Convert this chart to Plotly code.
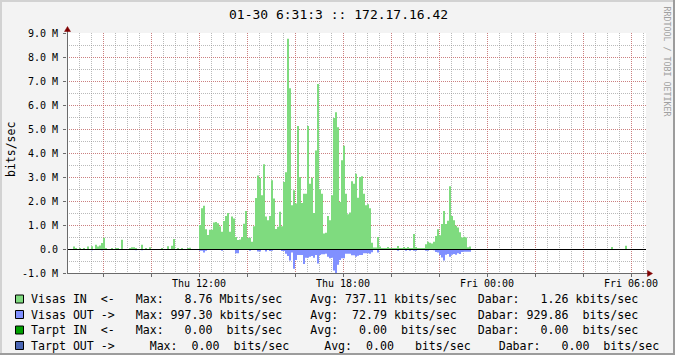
import plotly.graph_objects as go
import pandas as pd

# ---------------- data (Mbits/sec, 5-minute samples starting Thu 06:30) ----------------
start_time = "2014-01-30 06:30"
step = "5min"

visas_in = [
    0, 0, 0, 0.10, 0.04, 0, 0.04, 0, 0.04, 0, 0.10, 0,
    0.11, 0, 0.18, 0.10, 0.15, 0.25, 0.47, 0.04, 0, 0, 0.04, 0,
    0.04, 0.04, 0, 0.39, 0, 0, 0, 0.04, 0.07, 0.07, 0.04, 0,
    0, 0.18, 0, 0.04, 0, 0.07, 0, 0, 0, 0, 0, 0.04,
    0, 0, 0.11, 0, 0.14, 0.42, 0, 0.04, 0, 0.04, 0, 0,
    0.04, 0.05, 0, 0, 0, 0, 1.00, 1.70, 1.80, 0.82, 0.58, 0.80,
    0.80, 1.10, 1.13, 1.07, 0.95, 0.72, 1.17, 1.37, 1.50, 0.72, 1.35, 1.27,
    0.50, 0.38, 0.40, 0.50, 1.05, 1.58, 0.47, 0.47, 0.30, 0.95, 2.13, 3.06,
    2.96, 2.24, 3.53, 1.35, 1.20, 1.37, 2.86, 2.10, 0.83, 0.93, 1.55, 0.95,
    2.79, 3.20, 8.76, 6.70, 1.82, 2.45, 1.90, 5.13, 3.00, 1.92, 2.30, 2.30,
    5.13, 2.72, 2.97, 1.50, 4.10, 6.87, 2.49, 2.30, 0.65, 0.68, 1.37, 1.20,
    2.24, 5.46, 5.70, 5.07, 1.96, 3.70, 4.30, 2.30, 1.45, 1.52, 2.82, 2.72,
    3.14, 2.14, 3.00, 3.03, 2.30, 1.82, 1.86, 1.70, 0.26, 0.06, 0.06, 0.50,
    0.10, 0.04, 0.04, 0.04, 0.08, 0.04, 0.04, 0.04, 0.04, 0.12, 0.04, 0.04,
    0.08, 0.04, 0.08, 0.04, 0.04, 0.62, 0.08, 0.04, 0.04, 0.04, 0.04, 0.20,
    0.30, 0.26, 0.23, 0.30, 0.54, 0.82, 0.57, 1.04, 1.58, 1.04, 1.18, 2.61,
    1.37, 1.20, 0.97, 0.90, 0.70, 0.48, 0.51, 0.48, 0.07, 0.10, 0, 0,
    0, 0, 0, 0, 0, 0, 0, 0, 0, 0, 0, 0,
    0, 0, 0, 0, 0, 0, 0, 0, 0, 0, 0, 0,
    0, 0, 0, 0, 0, 0, 0, 0, 0, 0, 0, 0,
    0, 0, 0, 0, 0, 0, 0, 0, 0, 0, 0, 0,
    0, 0, 0, 0, 0, 0, 0, 0, 0, 0, 0, 0,
    0, 0, 0, 0, 0, 0, 0, 0, 0.08, 0, 0, 0,
    0, 0, 0, 0.14, 0, 0, 0, 0, 0, 0, 0, 0,
    0,
]

visas_out = [
    0, 0, 0, 0, 0, 0, 0, 0, 0, 0, 0, 0,
    0.05, 0, 0, 0, 0, 0.05, 0, 0, 0, 0, 0, 0,
    0, 0, 0, 0, 0, 0, 0, 0, 0, 0, 0.05, 0,
    0, 0.05, 0, 0, 0, 0, 0, 0, 0, 0, 0, 0,
    0, 0, 0, 0, 0, 0, 0, 0, 0, 0, 0, 0,
    0, 0, 0, 0, 0, 0, 0.07, 0.07, 0.15, 0.07, 0, 0,
    0, 0, 0, 0, 0, 0.07, 0, 0, 0, 0, 0, 0,
    0.18, 0.18, 0, 0, 0, 0, 0, 0.07, 0, 0, 0, 0.10,
    0.10, 0.04, 0, 0.10, 0, 0.08, 0.07, 0.04, 0.04, 0.04, 0.04, 0.08,
    0.08, 0.20, 0.29, 0.48, 0.15, 0.82, 0.46, 0.25, 0.25, 0.25, 0.62, 0.36,
    0.36, 0.32, 0.29, 0.36, 0.25, 0.60, 0.25, 0.22, 0.22, 0.20, 0.32, 0.39,
    0.36, 0.90, 0.997, 0.66, 0.46, 0.39, 0.39, 0.20, 0.20, 0.20, 0.26, 0.26,
    0.32, 0.28, 0.25, 0.25, 0.18, 0.18, 0.18, 0.20, 0.14, 0, 0, 0.15,
    0, 0, 0, 0, 0, 0, 0, 0, 0, 0.07, 0, 0,
    0, 0.07, 0, 0.07, 0, 0.07, 0.07, 0, 0, 0, 0, 0.07,
    0.07, 0.03, 0.03, 0.05, 0.12, 0.15, 0.25, 0.35, 0.48, 0.24, 0.21, 0.32,
    0.24, 0.21, 0.24, 0.18, 0.21, 0.12, 0.11, 0.11, 0.11, 0.11, 0, 0,
    0, 0, 0, 0, 0, 0, 0, 0, 0, 0, 0, 0,
    0, 0, 0, 0, 0, 0, 0, 0, 0, 0, 0, 0,
    0, 0, 0, 0, 0, 0, 0, 0, 0, 0, 0, 0,
    0, 0, 0, 0, 0, 0, 0, 0, 0, 0, 0, 0,
    0, 0, 0, 0, 0, 0, 0, 0, 0, 0, 0, 0,
    0, 0, 0, 0, 0, 0, 0, 0, 0, 0, 0, 0,
    0, 0, 0, 0, 0, 0, 0, 0, 0, 0, 0, 0,
    0,
]

y_tickvals = [-1, 0, 1, 2, 3, 4, 5, 6, 7, 8, 9]
y_ticktext = ["-1.0 M", "0.0", "1.0 M", "2.0 M", "3.0 M", "4.0 M",
              "5.0 M", "6.0 M", "7.0 M", "8.0 M", "9.0 M"]

x_tickvals = ["2014-01-30 08:00", "2014-01-30 10:00", "2014-01-30 12:00",
              "2014-01-30 14:00", "2014-01-30 16:00", "2014-01-30 18:00",
              "2014-01-30 20:00", "2014-01-30 22:00", "2014-01-31 00:00",
              "2014-01-31 02:00", "2014-01-31 04:00", "2014-01-31 06:00"]
x_ticktext = ["", "", "Thu 12:00", "", "", "Thu 18:00",
              "", "", "Fri 00:00", "", "", "Fri 06:00"]
x_range = ["2014-01-30 06:30", "2014-01-31 06:37:30"]

title_text = "01-30 6:31:3 :: 172.17.16.42"
y_unit = "bits/sec"
watermark = "RRDTOOL / TOBI OETIKER"

legend_labels = ["Visas IN  <-", "Visas OUT ->", "Tarpt IN  <-", "Tarpt OUT ->"]
legend_max = [8.76, 997.30, 0.00, 0.00]
legend_max_unit = ["M", "k", " ", " "]
legend_avg = [737.11, 72.79, 0.00, 0.00]
legend_avg_unit = ["k", "k", " ", " "]
legend_last = [1.26, 929.86, 0.00, 0.00]
legend_last_unit = ["k", " ", " ", " "]
legend_colors = ["#7FDB7F", "#8090FF", "#00A000", "#4A66B4"]

# ---------------- geometry ----------------
W, H = 675, 355
L, R, T, B = 67, 646, 33, 273
FONT = "DejaVu Sans Mono"


def px(x):
    return (x - L) / (R - L)


def py(y):
    return (B - y) / (B - T)


times = pd.date_range(start_time, periods=len(visas_in) + 1, freq=step)

fig = go.Figure()
# step areas (each sample held for one 5-minute step)
fig.add_trace(go.Scatter(x=times, y=visas_in + [visas_in[-1]], mode="lines",
                         line=dict(shape="hv", width=0, color=legend_colors[0]),
                         fill="tozeroy", fillcolor=legend_colors[0],
                         showlegend=False, hoverinfo="skip"))
fig.add_trace(go.Scatter(x=times, y=[-v for v in visas_out] + [-visas_out[-1]],
                         mode="lines",
                         line=dict(shape="hv", width=0, color=legend_colors[1]),
                         fill="tozeroy", fillcolor=legend_colors[1],
                         showlegend=False, hoverinfo="skip"))

grid_minor = "rgba(140,140,140,0.6)"
grid_major = "rgba(215,90,90,0.6)"
axis_col = "#6A6A6A"

fig.update_layout(
    width=W, height=H,
    margin=dict(l=L, r=W - R, t=T, b=H - B, autoexpand=False),
    paper_bgcolor="#F3F3F3", plot_bgcolor="#FFFFFF",
    font=dict(family=FONT, size=10, color="#000000"),
    showlegend=False,
)

fig.update_xaxes(
    type="date", range=x_range, fixedrange=True,
    tickmode="array", tickvals=x_tickvals, ticktext=x_ticktext,
    showgrid=True, gridcolor=grid_major, griddash="1px,1px", gridwidth=1,
    ticks="outside", ticklen=3, tickcolor=axis_col, tickwidth=1,
    ticklabelstandoff=-2,
    tickfont=dict(family=FONT, size=10, color="#000000"),
    showline=False, zeroline=False,
    minor=dict(dtick=30 * 60 * 1000, tick0="2014-01-30 06:30",
               showgrid=True, gridcolor=grid_minor, griddash="1px,1px",
               gridwidth=1, ticks=""),
)
fig.update_yaxes(
    range=[-1, 9], fixedrange=True,
    tickmode="array", tickvals=y_tickvals, ticktext=y_ticktext,
    showgrid=True, gridcolor=grid_major, griddash="1px,1px", gridwidth=1,
    ticks="outside", ticklen=3, tickcolor=axis_col, tickwidth=1,
    ticklabelstandoff=3,
    tickfont=dict(family=FONT, size=10, color="#000000"),
    showline=False, zeroline=False,
    minor=dict(dtick=0.5, tick0=0, showgrid=True, gridcolor=grid_minor,
               griddash="1px,1px", gridwidth=1, ticks=""),
)

shapes = []
# zero line (HRULE)
shapes.append(dict(type="line", xref="paper", yref="y", x0=0, x1=1,
                   ysizemode="pixel", yanchor=0, y0=-0.5, y1=-0.5,
                   line=dict(color="#000000", width=1), layer="above"))
# axes
shapes.append(dict(type="line", xref="paper", yref="paper",
                   x0=px(L + 0.5), x1=px(L + 0.5), y0=py(B + 0.5), y1=py(29),
                   line=dict(color=axis_col, width=1), layer="above"))
shapes.append(dict(type="line", xref="paper", yref="paper",
                   x0=px(L), x1=px(649), y0=py(B + 0.5), y1=py(B + 0.5),
                   line=dict(color=axis_col, width=1), layer="above"))
# arrows
arrow_col = "#800000"
shapes.append(dict(type="path", xref="paper", yref="paper",
                   path=f"M {px(L + 0.5)},{py(26.5)} L {px(L - 2.5)},{py(31.5)} "
                        f"L {px(L + 3.5)},{py(31.5)} Z",
                   fillcolor=arrow_col, line=dict(color=arrow_col, width=0.5),
                   layer="above"))
shapes.append(dict(type="path", xref="paper", yref="paper",
                   path=f"M {px(652.5)},{py(B + 0.5)} L {px(647.5)},{py(B - 2.5)} "
                        f"L {px(647.5)},{py(B + 3.5)} Z",
                   fillcolor=arrow_col, line=dict(color=arrow_col, width=0.5),
                   layer="above"))
# 3-D frame
frame = [((0, 0, W, 2), "#D2D2D2"), ((0, 0, 2, H), "#D2D2D2"),
         ((0, H - 2, W, H), "#9C9C9C"), ((W - 2, 0, W, H), "#9C9C9C")]
for (a, b, c, d), col in frame:
    shapes.append(dict(type="rect", xref="paper", yref="paper",
                       x0=px(a), x1=px(c), y0=py(b), y1=py(d),
                       fillcolor=col, line=dict(width=0), layer="above"))

# legend boxes and text
row_y = [299, 314.5, 330, 345.5]
annotations = []
fmt_a = "{lab}   Max: {mx:6.2f} {mu}bits/sec    Avg: {av:6.2f} {au}bits/sec   Dabar: {ls:6.2f} {lu}bits/sec"
fmt_b = "{lab}     Max:  {mx:4.2f} {mu}bits/sec     Avg:  {av:4.2f}  {au}bits/sec    Dabar:   {ls:4.2f} {lu}bits/sec"
for i, lab in enumerate(legend_labels):
    yc = row_y[i]
    shapes.append(dict(type="rect", xref="paper", yref="paper",
                       x0=px(15.5), x1=px(23.5), y0=py(yc - 4), y1=py(yc + 4),
                       fillcolor=legend_colors[i],
                       line=dict(color="#000000", width=1), layer="above"))
    fmt = fmt_a if i < 3 else fmt_b
    txt = fmt.format(lab=lab, mx=legend_max[i], mu=legend_max_unit[i],
                     av=legend_avg[i], au=legend_avg_unit[i],
                     ls=legend_last[i], lu=legend_last_unit[i])
    annotations.append(dict(x=px(30), y=py(yc), xref="paper", yref="paper",
                            text=txt.replace(" ", "\u00a0"), showarrow=False,
                            xanchor="left", yanchor="middle", borderpad=0,
                            font=dict(family=FONT, size=11.6, color="#000000")))

annotations.append(dict(x=px(338), y=py(14), xref="paper", yref="paper",
                        text=title_text.replace(" ", "\u00a0"), showarrow=False,
                        xanchor="center", yanchor="middle", borderpad=0,
                        font=dict(family=FONT, size=13, color="#000000")))
annotations.append(dict(x=px(11), y=py(150), xref="paper", yref="paper",
                        text=y_unit, showarrow=False, textangle=-90,
                        xanchor="center", yanchor="middle", borderpad=0,
                        font=dict(family=FONT, size=11.5, color="#000000")))
annotations.append(dict(x=px(666.5), y=py(61), xref="paper", yref="paper",
                        text=watermark.replace(" ", "\u00a0"), showarrow=False,
                        textangle=90, xanchor="center", yanchor="middle",
                        borderpad=0,
                        font=dict(family=FONT, size=8.3, color="#A0A0A0")))

fig.update_layout(shapes=shapes, annotations=annotations)
fig.write_html("out.html")
